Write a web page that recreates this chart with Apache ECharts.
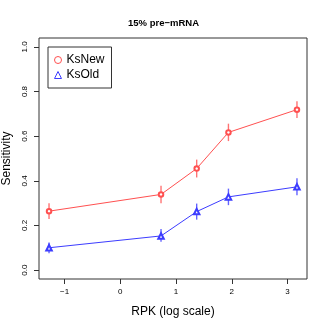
<!DOCTYPE html>
<html><head><meta charset="utf-8">
<script src="https://cdn.jsdelivr.net/npm/echarts@6/dist/echarts.min.js"></script>
<style>html,body{margin:0;padding:0;background:#fff}#c{width:327px;height:327px}</style>
</head><body><div id="c"></div>
<script>
const rpk = [-1.28, 0.73, 1.37, 1.94, 3.17];
const ksNew = [0.264, 0.339, 0.455, 0.617, 0.719];
const ksNewLow = [0.229, 0.300, 0.415, 0.578, 0.682];
const ksNewHigh = [0.299, 0.378, 0.495, 0.656, 0.756];
const ksOld = [0.100, 0.153, 0.262, 0.328, 0.373];
const ksOldLow = [0.075, 0.127, 0.226, 0.291, 0.335];
const ksOldHigh = [0.124, 0.184, 0.298, 0.365, 0.411];
const xTicks = [-1, 0, 1, 2, 3];
const yTicks = [0, 0.2, 0.4, 0.6, 0.8, 1.0];

const RED = '#ff5050', BLUE = '#3c3cff';
const font = 'Liberation Sans, Arial, Helvetica, sans-serif';

function errData(low, high) { return rpk.map((x, i) => [x, low[i], high[i]]); }
function errSeries(low, high, color) {
  return {
    type: 'custom', silent: true, z: 3,
    data: errData(low, high),
    renderItem: function (params, api) {
      const a = api.coord([api.value(0), api.value(1)]);
      const b = api.coord([api.value(0), api.value(2)]);
      return { type: 'line', shape: { x1: a[0], y1: a[1], x2: b[0], y2: b[1] },
        style: { stroke: color, lineWidth: 1.4, opacity: 0.8 } };
    }
  };
}

const chart = echarts.init(document.getElementById('c'), null, { renderer: 'canvas' });
chart.setOption({
  animation: false,
  backgroundColor: '#fff',
  title: { text: '15% pre\u2212mRNA', left: 'center', top: 13,
    textStyle: { fontFamily: font, fontSize: 9.5, fontWeight: 'bold', color: '#000' } },
  grid: { left: 39, right: 20, top: 38, bottom: 48, show: true, borderColor: '#333', borderWidth: 1,
    backgroundColor: 'transparent', containLabel: false, outerBoundsMode: 'none' },
  xAxis: {
    type: 'value', min: -1.46, max: 3.35,
    name: 'RPK (log scale)', nameLocation: 'middle', nameGap: 27,
    nameTextStyle: { fontFamily: font, fontSize: 12, color: '#000' },
    axisLine: { show: false, onZero: false }, splitLine: { show: false },
    axisTick: { show: true, inside: false, length: 5, customValues: xTicks, lineStyle: { color: '#333' } },
    axisLabel: { customValues: xTicks, fontFamily: font, fontSize: 8, color: '#000', margin: 9,
      formatter: v => (v < 0 ? '\u2212' + Math.abs(v) : String(v)) }
  },
  yAxis: {
    type: 'value', min: -0.04, max: 1.04,
    name: 'Sensitivity', nameLocation: 'middle', nameGap: 26,
    nameTextStyle: { fontFamily: font, fontSize: 12, color: '#000' },
    axisLine: { show: false, onZero: false }, splitLine: { show: false },
    axisTick: { show: true, inside: false, length: 5, customValues: yTicks, lineStyle: { color: '#333' } },
    axisLabel: { customValues: yTicks, rotate: 90, fontFamily: font, fontSize: 8, color: '#000', margin: 10,
      formatter: v => v.toFixed(1) }
  },
  legend: {
    orient: 'vertical', left: 48, top: 47,
    borderColor: '#333', borderWidth: 1, padding: [7, 7, 7, 6],
    itemGap: 3, itemWidth: 7, itemHeight: 7,
    textStyle: { fontFamily: font, fontSize: 12, color: '#000' },
    data: [
      { name: 'KsNew', icon: 'circle', itemStyle: { color: 'transparent', borderColor: RED, borderWidth: 1 } },
      { name: 'KsOld', icon: 'triangle', itemStyle: { color: 'transparent', borderColor: BLUE, borderWidth: 1 } }
    ]
  },
  series: [
    { name: 'KsNew', type: 'line', data: rpk.map((x, i) => [x, ksNew[i]]),
      symbol: 'emptyCircle', symbolSize: 4.5, z: 4,
      lineStyle: { color: RED, width: 1 }, itemStyle: { color: RED, borderColor: RED, borderWidth: 1 } },
    { name: 'KsOld', type: 'line', data: rpk.map((x, i) => [x, ksOld[i]]),
      symbol: 'emptyTriangle', symbolSize: 5.5, z: 4,
      lineStyle: { color: BLUE, width: 1 }, itemStyle: { color: BLUE, borderColor: BLUE, borderWidth: 1 } },
    errSeries(ksNewLow, ksNewHigh, RED),
    errSeries(ksOldLow, ksOldHigh, BLUE)
  ]
});
</script></body></html>
